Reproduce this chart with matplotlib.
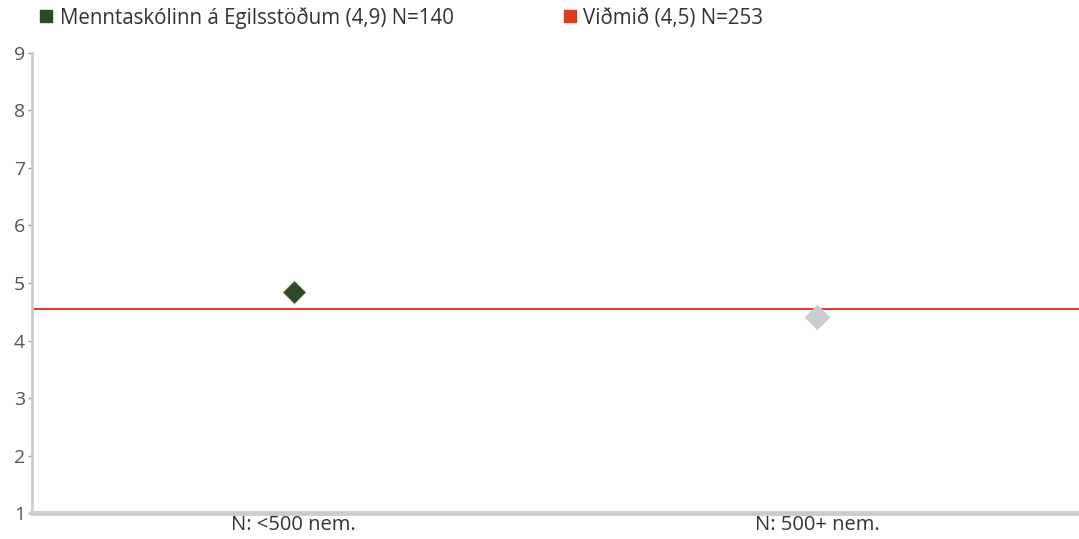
import matplotlib
matplotlib.use('Agg')
import matplotlib.pyplot as plt
from matplotlib.lines import Line2D

# data
categories = ['N: <500 nem.', 'N: 500+ nem.']
school_values = [4.84, 4.40]
school_colors = ['#2b4a2a', '#cccccc']
benchmark = 4.55
school_label = 'Menntaskólinn á Egilsstöðum (4,9) N=140'
benchmark_label = 'Viðmið (4,5) N=253'
yticks = [1, 2, 3, 4, 5, 6, 7, 8, 9]

plt.rcParams['font.family'] = ['Open Sans', 'DejaVu Sans']

fig = plt.figure(figsize=(10.79, 5.39), dpi=100)
ax = fig.add_axes([0.0297, 0.048, 0.9703, 0.854])

x = list(range(len(categories)))
ax.axhline(benchmark, color='#e8231f', linewidth=1.3, zorder=2)
for xi, v, c in zip(x, school_values, school_colors):
    ax.scatter(xi, v, marker='D', s=150, color=c, edgecolors='#f3e6c8' if c == '#2b4a2a' else c,
               linewidths=0.8, zorder=3)

ax.set_xlim(-0.5, 1.5)
ax.set_ylim(1, 9)
ax.set_yticks(yticks)
ax.set_xticks(x)
ax.set_xticklabels(categories, fontsize=14.5, color='#333333')
ax.tick_params(axis='x', length=0, pad=1)
ax.tick_params(axis='y', length=3, width=1, color='#999999', labelsize=14,
               labelcolor='#555555', pad=2)

for s in ['top', 'right']:
    ax.spines[s].set_visible(False)
ax.spines['left'].set_color('#cccccc')
ax.spines['left'].set_linewidth(2)
ax.spines['bottom'].set_color('#cccccc')
ax.spines['bottom'].set_linewidth(3.5)

handles = [
    Line2D([], [], marker='s', linestyle='', markersize=9, color='#2b4a2a'),
    Line2D([], [], marker='s', linestyle='', markersize=9, color='#e03a1a'),
]
fig.legend(handles, [school_label, benchmark_label], ncol=2, frameon=False,
           loc='upper left', bbox_to_anchor=(0.019, 1.022), fontsize=14.8,
           handlelength=0.7, handletextpad=0.3, columnspacing=5.3,
           labelcolor='#333333')

fig.savefig('out.png', dpi=100)
